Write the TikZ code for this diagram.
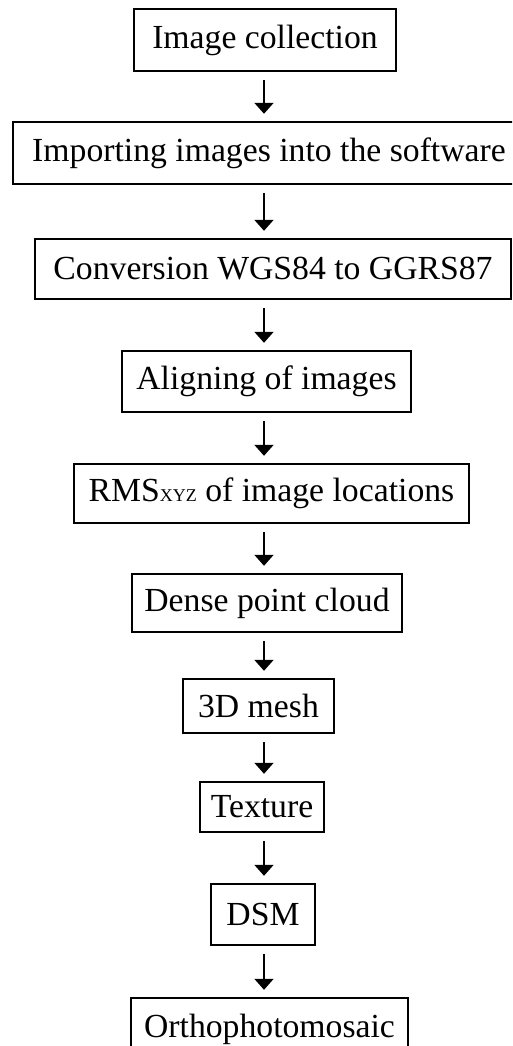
\documentclass[tikz,border=0pt]{standalone}
\usepackage{fontspec}
\setmainfont{Liberation Serif}
\usetikzlibrary{arrows.meta}
\begin{document}
\begin{tikzpicture}[x=1pt,y=-1pt,
  stepbox/.style={draw=black,line width=2.4pt,rectangle,inner sep=0pt,
    font=\fontsize{33.7}{40}\selectfont},
  arr/.style={line width=2pt,-{Triangle[width=19pt,length=11pt]}}]
\useasboundingbox (0,0) rectangle (512,1046);
\begin{scope}
\clip (0,0) rectangle (512,1046);
\node[stepbox,minimum width=262pt,minimum height=62pt] (n1) at (265,40) {Image collection};
\node[stepbox,minimum width=512pt,minimum height=62pt] (n2) at (269,153) {Importing images into the software};
\node[stepbox,minimum width=476pt,minimum height=60pt] (n3) at (273,269) {Conversion WGS84 to GGRS87};
\node[stepbox,minimum width=289pt,minimum height=61pt] (n4) at (266.5,381.5) {Aligning of images};
\node[stepbox,minimum width=395pt,minimum height=59pt] (n5) at (271.5,493.5) {RMS{\fontsize{18}{20}\selectfont XYZ} of image locations};
\node[stepbox,minimum width=270pt,minimum height=58pt] (n6) at (267,603) {Dense point cloud};
\node[stepbox,minimum width=151pt,minimum height=54pt] (n7) at (258.5,706) {3D mesh};
\node[stepbox,minimum width=124pt,minimum height=50pt] (n8) at (262,807) {Texture};
\node[stepbox,minimum width=104pt,minimum height=61pt] (n9) at (263,914.5) {DSM};
\node[stepbox,minimum width=277pt,minimum height=62pt] (n10) at (269.5,1029) {Orthophotomosaic};
\end{scope}
\coordinate (ax) at (264,0);
\foreach \a/\b in {n1/n2,n2/n3,n3/n4,n4/n5,n5/n6,n6/n7,n7/n8,n8/n9,n9/n10}{
  \draw[arr,shorten <=8pt,shorten >=7pt] (\a.south -| ax) -- (\b.north -| ax);
}
\end{tikzpicture}
\end{document}
